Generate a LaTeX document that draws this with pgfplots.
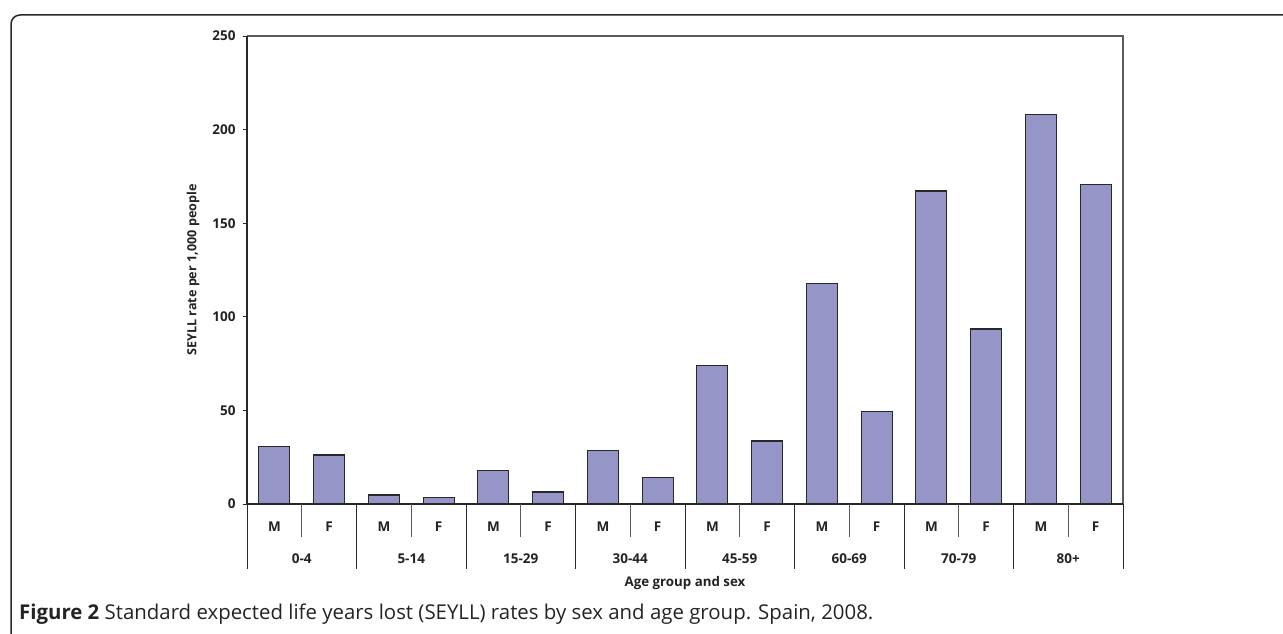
\documentclass[border=0pt]{standalone}
\usepackage{fontspec}
\setmainfont{Open Sans}
\usepackage{pgfplots}
\pgfplotsset{compat=1.18}
\definecolor{barfill}{RGB}{149,149,200}
\definecolor{txt}{RGB}{35,35,35}
\definecolor{frm}{RGB}{40,40,40}
\definecolor{sepg}{RGB}{90,90,90}
\newcommand{\lf}{\bfseries\fontsize{13.5}{13.5}\selectfont}
\newcommand{\af}{\bfseries\fontsize{12.6}{12.6}\selectfont}
\begin{document}
\begin{tikzpicture}[x=1pt,y=1pt]
\useasboundingbox (0,0) rectangle (1283,-634);
\draw[line width=1.5pt, color=frm, rounded corners=9pt] (11,-640) -- (11,-15) -- (1290,-15);
\begin{axis}[
  at={(247pt,-504pt)}, anchor=south west,
  scale only axis, width=876pt, height=468pt,
  xmin=-0.5, xmax=15.5, ymin=0, ymax=250,
  ybar, bar width=31pt,
  axis line style={draw=none},
  clip=false,
  xtick=\empty,
  ytick={0,50,100,150,200,250},
  ytick pos=left, tick align=outside, major tick length=4pt,
  ytick style={draw=frm, line width=1pt},
  yticklabel style={font=\lf, text=txt, xshift=-4pt},
  /pgf/number format/assume math mode=true,
  ylabel={SEYLL rate per 1,000 people},
  ylabel style={at={(axis description cs:-0.0616,0.5)}, anchor=center, font=\af, text=txt},
  xlabel={Age group and sex},
  xlabel style={at={(axis description cs:0.5,-0.1688)}, anchor=center, font=\bfseries\fontsize{13.3}{13.3}\selectfont, text=txt},
]
\addplot[fill=barfill, draw=frm, line width=1.2pt] coordinates {
  (0,30.8) (1,26.2) (2,4.8) (3,3.4) (4,17.8) (5,6.4) (6,28.7) (7,14.1)
  (8,73.9) (9,33.7) (10,117.9) (11,49.3) (12,167.2) (13,93.5) (14,208.2) (15,170.8)
};
% axis frame
\draw[line width=1.2pt, color=sepg] (rel axis cs:0,1) -- (rel axis cs:1,1) -- (rel axis cs:1,0);
\draw[line width=1.8pt, color=frm] (rel axis cs:0,1) -- (rel axis cs:0,0) -- (rel axis cs:1,0);
% separators
\pgfplotsinvokeforeach{0.5,2.5,4.5,6.5,8.5,10.5,12.5,14.5}{
  \draw[line width=1pt, color=sepg] (axis cs:#1,0) -- ++(0pt,-33pt);
}
\pgfplotsinvokeforeach{-0.5,1.5,3.5,5.5,7.5,9.5,11.5,13.5,15.5}{
  \draw[line width=1pt, color=frm] (axis cs:#1,0) -- ++(0pt,-65pt);
}
\pgfplotsinvokeforeach{0,2,4,6,8,10,12,14}{
  \node[font=\lf, text=txt] at (axis cs:#1,0) [yshift=-23pt] {M};
}
\pgfplotsinvokeforeach{1,3,5,7,9,11,13,15}{
  \node[font=\lf, text=txt] at (axis cs:#1,0) [yshift=-23pt] {F};
}
\node[font=\lf, text=txt] at (axis cs:0.5,0) [yshift=-55pt] {0-4};
\node[font=\lf, text=txt] at (axis cs:2.5,0) [yshift=-55pt] {5-14};
\node[font=\lf, text=txt] at (axis cs:4.5,0) [yshift=-55pt] {15-29};
\node[font=\lf, text=txt] at (axis cs:6.5,0) [yshift=-55pt] {30-44};
\node[font=\lf, text=txt] at (axis cs:8.5,0) [yshift=-55pt] {45-59};
\node[font=\lf, text=txt] at (axis cs:10.5,0) [yshift=-55pt] {60-69};
\node[font=\lf, text=txt] at (axis cs:12.5,0) [yshift=-55pt] {70-79};
\node[font=\lf, text=txt] at (axis cs:14.5,0) [yshift=-55pt] {80+};
\end{axis}
\node[anchor=base west, font=\fontsize{20.4}{20.4}\selectfont, text=txt, inner sep=0pt] at (19,-619) {\textbf{Figure 2} Standard expected life years lost (SEYLL) rates by sex and age group. Spain, 2008.};
\end{tikzpicture}
\end{document}
